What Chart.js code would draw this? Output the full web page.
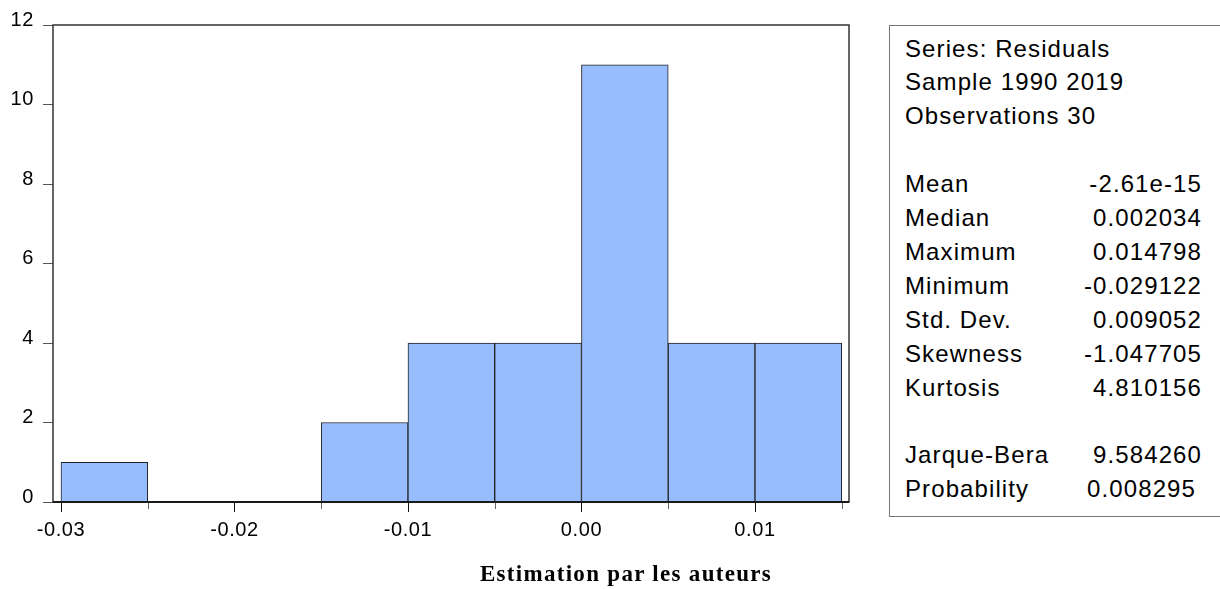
<!DOCTYPE html>
<html>
<head>
<meta charset="utf-8">
<script src="https://cdn.jsdelivr.net/npm/chart.js@4.4.1/dist/chart.umd.min.js"></script>
<style>
  html, body { margin:0; padding:0; background:#fff; }
  body { width:1220px; height:589px; overflow:hidden; position:relative; font-family:"Liberation Sans", Arial, sans-serif; }
  #c { position:absolute; left:0; top:0; }
  #stats { position:absolute; left:889px; top:25px; width:345px; height:492px; border:1.5px solid #777; box-sizing:border-box; background:#fff; }
  .row { position:absolute; left:0; width:312px; height:34px; line-height:34px; font-size:24px; letter-spacing:1.1px; color:#000; white-space:nowrap; }
  .row .lab { position:absolute; left:15px; top:0; }
  .row .val { position:absolute; right:0; top:0; text-align:right; }
  #caption { position:absolute; left:426px; width:400px; top:560px; height:28px; line-height:28px; text-align:center; font-family:"Liberation Serif", "Times New Roman", serif; font-weight:bold; font-size:23px; letter-spacing:1.3px; color:#000; }
</style>
</head>
<body>
<canvas id="c" width="1220" height="589"></canvas>
<div id="stats"></div>
<div id="caption">Estimation par les auteurs</div>
<script>
const binEdges = [-0.03, -0.025, -0.02, -0.015, -0.01, -0.005, 0.0, 0.005, 0.01, 0.015];
const counts = [1, 0, 0, 2, 4, 4, 11, 4, 4];
const yTickValues = [0, 2, 4, 6, 8, 10, 12];
const xTickValues = [-0.03, -0.025, -0.02, -0.015, -0.01, -0.005, 0.0, 0.005, 0.01, 0.015];
const xTickLabels = ['-0.03', '', '-0.02', '', '-0.01', '', '0.00', '', '0.01', ''];
const statLabels = ['Series: Residuals', 'Sample 1990 2019', 'Observations 30', '', 'Mean', 'Median', 'Maximum', 'Minimum', 'Std. Dev.', 'Skewness', 'Kurtosis', '', 'Jarque-Bera', 'Probability'];
const statValues = ['', '', '', '', '-2.61e-15', '0.002034', '0.014798', '-0.029122', '0.009052', '-1.047705', '4.810156', '', '9.584260', '0.008295'];

// stats box
const box = document.getElementById('stats');
statLabels.forEach((lab, i) => {
  const row = document.createElement('div');
  row.className = 'row';
  row.style.top = (49 + 33.9 * i - 25 - 1.5 - 17) + 'px';
  const l = document.createElement('span'); l.className = 'lab'; l.textContent = lab;
  const v = document.createElement('span'); v.className = 'val'; v.textContent = statValues[i];
  if (lab === 'Probability') v.style.right = '6px';
  row.appendChild(l); row.appendChild(v);
  box.appendChild(row);
});

const tickFont = { family: '"Liberation Sans", Arial, sans-serif', size: 20 };

const framePlugin = {
  id: 'frame',
  beforeDraw(chart) { chart.ctx.letterSpacing = '0.6px'; },
  afterDatasetsDraw(chart) {
    const { ctx, chartArea: a } = chart;
    const xs = chart.scales.x;
    ctx.save();
    ctx.letterSpacing = '0px';
    // x tick marks (major longer, minor shorter)
    xTickValues.forEach((v, i) => {
      const px = Math.round(xs.getPixelForValue(v)) + 0.5;
      const major = xTickLabels[i] !== '';
      ctx.strokeStyle = major ? '#111' : '#666';
      ctx.lineWidth = 1;
      ctx.beginPath();
      ctx.moveTo(px, a.bottom);
      ctx.lineTo(px, a.bottom + (major ? 10 : 7));
      ctx.stroke();
    });
    // frame
    ctx.strokeStyle = '#333';
    ctx.lineWidth = 1.5;
    ctx.strokeRect(a.left, a.top, a.right - a.left, a.bottom - a.top);
    ctx.strokeStyle = '#1a1a1a';
    ctx.lineWidth = 2;
    ctx.beginPath();
    ctx.moveTo(a.left, a.bottom);
    ctx.lineTo(a.right, a.bottom);
    ctx.stroke();
    ctx.restore();
  }
};

new Chart(document.getElementById('c'), {
  type: 'bar',
  data: {
    datasets: [{
      data: counts.map((c, i) => ({ x: (binEdges[i] + binEdges[i + 1]) / 2, y: c })),
      backgroundColor: '#97BDFE',
      borderColor: '#222',
      borderWidth: 1,
      barPercentage: 1,
      categoryPercentage: 1
    }]
  },
  options: {
    responsive: false,
    animation: false,
    layout: { padding: { top: 25, right: 371, left: 0, bottom: 0 } },
    plugins: { legend: { display: false }, tooltip: { enabled: false }, title: { display: false } },
    scales: {
      x: {
        type: 'linear',
        offset: false,
        min: -0.03046,
        max: 0.01542,
        afterBuildTicks: s => { s.ticks = xTickValues.map(v => ({ value: v })); },
        afterFit: s => { s.height = 87; },
        ticks: {
          autoSkip: false, maxRotation: 0, minRotation: 0,
          font: tickFont, color: '#000', padding: 6,
          callback: (v, i) => xTickLabels[i]
        },
        grid: { offset: false, drawOnChartArea: false, drawTicks: true, tickLength: 10, tickColor: 'rgba(0,0,0,0)' },
        border: { display: false }
      },
      y: {
        min: 0,
        max: 12,
        afterBuildTicks: s => { s.ticks = yTickValues.map(v => ({ value: v })); },
        afterFit: s => { s.width = 53; },
        ticks: { autoSkip: false, font: tickFont, color: '#000', padding: 9, labelOffset: -5 },
        grid: { drawOnChartArea: false, drawTicks: true, tickLength: 10, tickColor: '#555', tickWidth: 1 },
        border: { display: false }
      }
    }
  },
  plugins: [framePlugin]
});
</script>
</body>
</html>
